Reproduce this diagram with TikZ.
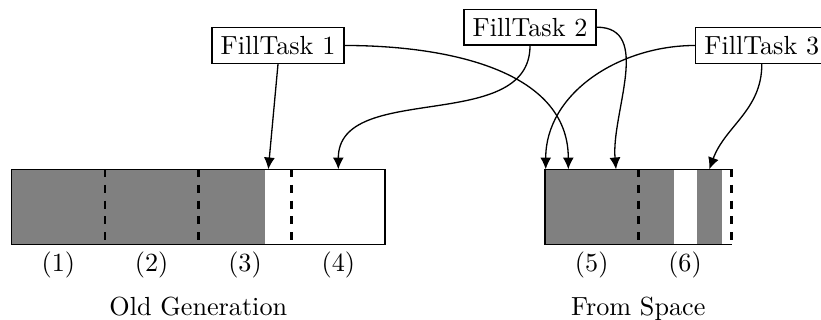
\documentclass[tikz,border=0pt]{standalone}
\usetikzlibrary{arrows.meta}
\tikzset{
  task/.style={draw, line width=0.5pt, inner sep=3.33pt, fill=white},
  conn/.style={-{Latex[length=4.5pt,width=4.2pt]}, line width=0.5pt},
  region/.style={line width=0.6pt},
  sepline/.style={dashed, line width=1pt},
}
\begin{document}
\begin{tikzpicture}[x=0.382pt,y=0.382pt]
\useasboundingbox (0,0) rectangle (821,320);
% Old generation
\fill[gray] (11.7,75.7) rectangle (265,150.7);
\draw[region] (11.7,75.7) rectangle (385,150.7);
\foreach \x in {105,198.3,291.7} \draw[sepline] (\x,150.7) -- (\x,75.7);
% From space
\fill[gray] (545,75.7) rectangle (674,150.7);
\fill[gray] (696.7,75.7) rectangle (722,150.7);
\draw[region] (731.7,150.7) -- (545,150.7) -- (545,75.7) -- (731.7,75.7);
\draw[sepline] (638.3,150.7) -- (638.3,75.7);
\draw[sepline] (731.7,150.7) -- (731.7,75.7);
% labels
\node (l1) at (58.3,55) {(1)};
\node (l2) at (151.7,55) {(2)};
\node (l3) at (245,55) {(3)};
\node (l4) at (338.3,55) {(4)};
\node (l5) at (591.7,55) {(5)};
\node (l6) at (685,55) {(6)};
\node[anchor=base] (og) at (198.3,4.3) {Old Generation};
\node[anchor=base] (fs) at (638.3,4.3) {From Space};
% tasks
\node[task] (f1) at (278,274.5) {FillTask 1};
\node[task] (f2) at (530,292.8) {FillTask 2};
\node[task] (f3) at (761.8,274.5) {FillTask 3};
% targets
\coordinate (t1) at (268.3,150.7);
\coordinate (t2) at (568.3,150.7);
\coordinate (t3) at (338.3,150.7);
\coordinate (t4) at (616,150.7);
\coordinate (t5) at (545.7,150.7);
\coordinate (t6) at (709.3,150.7);
% connectors
\draw[conn] (f1.south) -- (t1);
\draw[conn] (f1.east) to[out=0,in=90] (t2);
\draw[conn] (f2.south) to[out=-90,in=90] (t3);
\draw[conn] (f2.east) to[out=0,in=95] (t4);
\draw[conn] (f3.west) to[out=180,in=90] (t5);
\draw[conn] (f3.south) to[out=-90,in=70] (t6);
\end{tikzpicture}
\end{document}
